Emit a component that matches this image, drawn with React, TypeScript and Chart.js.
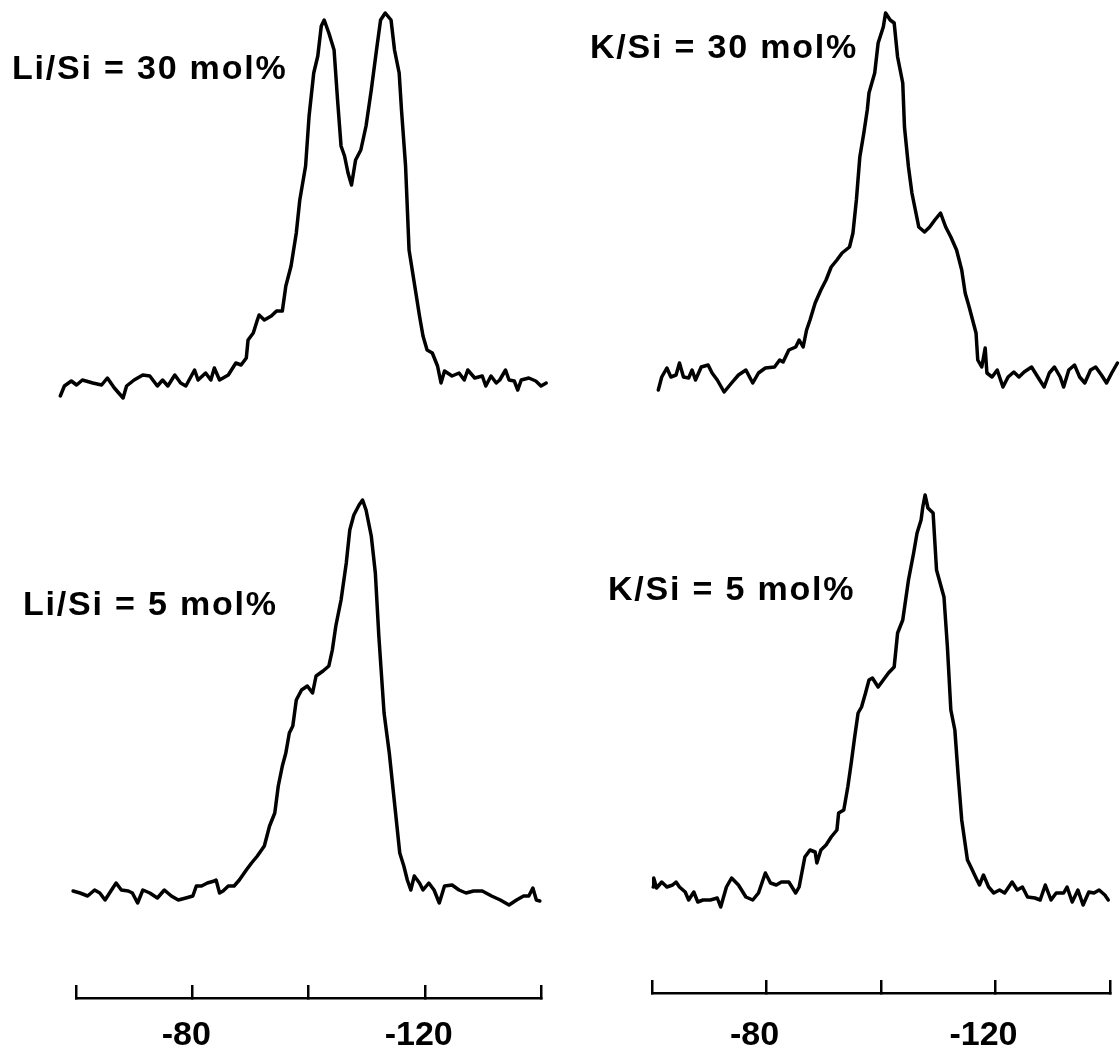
import React, { useEffect, useRef } from "react";
import { Chart, registerables } from "chart.js";

Chart.register(...registerables);

// 29Si chemical shift (ppm) and intensity (a.u., relative to each baseline)
const liSi30Ppm = [-57.3,-58.0,-59.2,-60.1,-61.1,-62.9,-64.4,-65.4,-66.6,-68.1,-68.7,-70.0,-71.5,-72.7,-74.0,-74.9,-75.8,-77.0,-78.0,-78.9,-80.4,-81.0,-82.3,-83.2,-83.8,-84.7,-86.2,-87.5,-88.4,-89.3,-89.6,-90.5,-91.2,-91.5,-92.4,-93.6,-94.5,-95.5,-96.1,-97.0,-97.9,-98.5,-99.5,-100.1,-100.9,-101.6,-102.2,-102.7,-103.5,-104.4,-105.0,-105.6,-106.2,-106.8,-107.4,-108.1,-109.0,-109.9,-110.8,-111.7,-112.4,-113.2,-114.2,-114.8,-115.6,-116.0,-116.7,-117.3,-118.2,-119.1,-119.7,-120.4,-121.3,-122.2,-122.8,-123.4,-124.7,-125.9,-126.8,-127.4,-128.6,-129.9,-130.5,-131.4,-132.3,-132.9,-133.9,-134.5,-135.4,-136.0,-136.6,-137.9,-139.1,-140.0,-140.9];
const liSi30Int = [-13,-3,2,-2,3,0,-2,5,-5,-15,-3,3,8,7,-3,3,-3,8,0,-3,13,3,10,3,15,3,8,20,18,25,43,50,63,68,63,67,72,72,97,117,150,183,217,267,310,327,357,363,350,333,283,237,227,210,198,223,233,257,293,333,363,370,363,333,310,273,217,133,100,67,47,33,30,17,0,12,7,10,3,13,5,7,-3,7,0,3,13,3,2,-7,3,5,2,-3,0];

const liSi5Ppm = [-59.5,-60.7,-62.0,-63.2,-64.1,-65.0,-66.0,-66.9,-67.8,-69.0,-69.7,-70.6,-71.5,-72.7,-74.0,-75.2,-76.4,-77.6,-78.9,-80.1,-80.7,-81.6,-82.6,-83.8,-84.1,-84.7,-85.3,-86.2,-87.2,-88.1,-89.3,-90.2,-91.2,-92.4,-93.3,-94.2,-94.8,-95.5,-96.1,-96.7,-97.3,-97.9,-98.8,-99.8,-100.7,-101.3,-102.5,-103.5,-104.1,-104.7,-105.6,-106.5,-107.1,-107.8,-108.7,-109.3,-109.9,-110.8,-111.5,-112.1,-113.0,-113.9,-114.8,-115.7,-116.4,-117.0,-117.6,-118.2,-119.1,-119.7,-120.7,-121.6,-122.5,-123.4,-124.7,-125.9,-127.1,-128.4,-129.9,-131.5,-133.0,-134.5,-135.8,-137.0,-137.9,-138.6,-139.2,-139.8];
const liSi5Int = [2,0,-3,3,0,-7,2,10,3,2,0,-10,3,0,-5,3,-3,-7,-5,-3,7,7,10,12,13,0,2,7,7,13,23,30,37,47,67,80,107,127,140,160,167,193,203,207,200,217,222,227,243,267,293,330,363,378,388,393,383,357,320,257,180,140,90,40,27,13,3,17,10,3,10,3,-10,7,8,3,0,2,2,-3,-7,-12,-7,-3,-3,5,-7,-8];

const kSi30Ppm = [-61.1,-61.7,-62.6,-63.3,-64.2,-64.8,-65.5,-66.4,-67.0,-67.6,-68.6,-69.8,-70.5,-71.4,-72.6,-73.9,-75.1,-76.4,-77.6,-78.6,-79.8,-81.4,-82.3,-82.9,-83.9,-85.1,-85.7,-86.4,-87.0,-87.6,-88.5,-89.5,-90.4,-91.3,-92.3,-93.2,-94.5,-95.1,-95.7,-96.3,-97.0,-97.6,-97.9,-98.9,-99.5,-100.4,-100.8,-101.6,-102.3,-102.9,-103.8,-104.1,-104.8,-105.4,-106.0,-106.6,-107.6,-108.5,-109.4,-110.4,-111.3,-112.2,-113.2,-114.1,-114.7,-115.4,-116.0,-116.6,-116.9,-117.6,-118.2,-118.5,-119.4,-120.3,-121.3,-122.2,-123.2,-124.1,-125.0,-126.3,-127.5,-128.5,-129.4,-130.3,-131.3,-131.9,-132.8,-133.8,-134.7,-135.6,-136.6,-137.5,-138.5,-139.4,-140.3,-141.3];
const kSi30Int = [-10,3,12,3,5,17,3,2,10,0,13,15,7,0,-12,-3,5,10,-3,7,12,13,20,18,30,33,40,33,50,60,77,90,100,113,120,127,133,147,180,223,247,270,287,307,337,353,367,360,357,323,297,253,213,187,170,153,148,153,160,167,153,143,130,110,87,73,60,47,20,13,32,7,3,10,-7,3,8,3,8,13,2,-7,7,13,3,-7,10,15,3,-3,10,13,5,-3,7,17];

const kSi5Ppm = [-60.2,-60.3,-60.8,-61.7,-62.6,-63.6,-64.2,-64.8,-65.8,-66.4,-67.3,-68.0,-68.9,-70.2,-71.4,-72.0,-73.0,-73.9,-75.1,-76.4,-77.6,-78.6,-79.8,-80.7,-81.7,-82.6,-83.9,-85.1,-85.7,-86.7,-87.6,-88.5,-88.8,-89.5,-90.4,-91.3,-92.3,-92.6,-93.5,-94.2,-94.8,-95.4,-96.0,-96.6,-97.3,-97.9,-98.5,-99.5,-100.4,-101.3,-102.3,-102.9,-103.8,-104.8,-105.7,-106.3,-107.0,-107.3,-107.7,-108.2,-109.1,-109.7,-111.0,-111.6,-112.2,-112.9,-113.5,-114.1,-115.1,-115.7,-116.6,-117.2,-117.9,-118.8,-119.7,-120.7,-121.6,-122.9,-123.8,-124.7,-125.6,-126.9,-127.8,-128.7,-129.7,-130.6,-131.9,-132.5,-133.4,-134.4,-135.3,-136.3,-137.2,-138.1,-139.1,-139.7];
const kSi5Int = [3,12,2,8,3,5,8,3,-2,-10,-2,-12,-10,-10,-8,-17,3,12,5,-7,-10,-3,17,7,5,8,8,-3,3,33,40,38,27,40,45,53,60,77,80,103,127,153,177,183,197,210,212,203,210,217,223,257,270,310,337,357,370,383,395,382,377,320,293,243,180,160,113,70,30,23,12,5,15,3,-3,0,-3,8,0,3,-7,-8,-10,5,-10,-3,-3,3,-12,0,-15,-2,-3,0,-5,-10];

const panelLabels = ["Li/Si = 30 mol%", "Li/Si = 5 mol%", "K/Si = 30 mol%", "K/Si = 5 mol%"];
const xMin = -140;
const xMax = -60;
const xStep = 20;
const xTickLabels = [-80, -120];

const CANVAS_W = 560;
const CANVAS_H = 1063;
const FONT = '"Liberation Sans", Arial, Helvetica, sans-serif';

const toPoints = (xs: number[], ys: number[]) => xs.map((x, i) => ({ x, y: ys[i] }));

// y-range so that intensity 0 lands on a given pixel row of the chart area (top = 0)
const rangeFor = (baselinePx: number, chartBottom: number) => ({
  min: -(chartBottom - baselinePx),
  max: baselinePx,
});

const labelPlugin = {
  id: "panelLabels",
  afterDraw(chart: any, _args: any, opts: any) {
    const ctx = chart.ctx;
    ctx.save();
    ctx.font = `bold 34px ${FONT}`;
    try { (ctx as any).letterSpacing = "1.8px"; } catch (e) {}
    ctx.fillStyle = "#000";
    ctx.textBaseline = "alphabetic";
    ctx.textAlign = "left";
    for (const it of opts.items || []) ctx.fillText(it.text, it.x, it.y);
    ctx.restore();
  },
};

function makeConfig(col: {
  top: { x: number; y: number }[];
  bottom: { x: number; y: number }[];
  padLeft: number;
  padRight: number;
  axisY: number;
  topBase: number;
  botBase: number;
  labelOffset: number;
  labelPad: number;
  labels: { text: string; x: number; y: number }[];
}): any {
  const ds = (data: any, axis: string) => ({
    data,
    yAxisID: axis,
    borderColor: "#000",
    borderWidth: 3.5,
    pointRadius: 0,
    tension: 0,
    fill: false,
    clip: false,
    borderJoinStyle: "round",
    borderCapStyle: "round",
  });
  const tr = rangeFor(col.topBase, col.axisY);
  const br = rangeFor(col.botBase, col.axisY);
  return {
    type: "line",
    data: { datasets: [ds(col.top, "yTop"), ds(col.bottom, "yBot")] },
    plugins: [labelPlugin],
    options: {
      animation: false,
      responsive: false,
      maintainAspectRatio: false,
      devicePixelRatio: 1,
      layout: { padding: { left: col.padLeft, right: col.padRight, top: 0, bottom: 0 } },
      plugins: {
        legend: { display: false },
        tooltip: { enabled: false },
        title: { display: false },
        panelLabels: { items: col.labels },
      },
      scales: {
        x: {
          type: "linear",
          min: xMin,
          max: xMax,
          reverse: true,
          afterFit: (s: any) => {
            s.height = CANVAS_H - col.axisY;
            s.paddingLeft = 0;
            s.paddingRight = 0;
          },
          border: { display: true, color: "#000", width: 2.5 },
          grid: {
            display: true,
            drawOnChartArea: false,
            drawTicks: true,
            tickLength: -13,
            color: "#000",
            lineWidth: 2.5,
          },
          ticks: {
            stepSize: xStep,
            autoSkip: false,
            maxRotation: 0,
            minRotation: 0,
            padding: col.labelPad,
            labelOffset: col.labelOffset,
            color: "#000",
            font: { family: FONT, size: 34, weight: "bold" },
            callback: (v: number) => (xTickLabels.includes(v) ? String(v) : ""),
          },
        },
        yTop: { axis: "y", type: "linear", display: false, min: tr.min, max: tr.max },
        yBot: { axis: "y", type: "linear", display: false, min: br.min, max: br.max },
      },
    },
  };
}

export default function App() {
  const leftRef = useRef<HTMLCanvasElement>(null);
  const rightRef = useRef<HTMLCanvasElement>(null);

  useEffect(() => {
    const left = new Chart(
      leftRef.current as HTMLCanvasElement,
      makeConfig({
        top: toPoints(liSi30Ppm, liSi30Int),
        bottom: toPoints(liSi5Ppm, liSi5Int),
        padLeft: 76,
        padRight: CANVAS_W - 541,
        axisY: 998,
        topBase: 383,
        botBase: 893,
        labelOffset: -6,
        labelPad: 30,
        labels: [
          { text: panelLabels[0], x: 12, y: 79 },
          { text: panelLabels[1], x: 23, y: 615 },
        ],
      })
    );
    const right = new Chart(
      rightRef.current as HTMLCanvasElement,
      makeConfig({
        top: toPoints(kSi30Ppm, kSi30Int),
        bottom: toPoints(kSi5Ppm, kSi5Int),
        padLeft: 652 - 560,
        padRight: CANVAS_W - (1110 - 560),
        axisY: 993,
        topBase: 380,
        botBase: 890,
        labelOffset: -12,
        labelPad: 35,
        labels: [
          { text: panelLabels[2], x: 30, y: 58 },
          { text: panelLabels[3], x: 48, y: 600 },
        ],
      })
    );
    return () => {
      left.destroy();
      right.destroy();
    };
  }, []);

  return (
    <div
      style={{
        position: "absolute",
        left: 0,
        top: 0,
        width: 1120,
        height: CANVAS_H,
        background: "#fff",
        overflow: "hidden",
      }}
    >
      <canvas
        ref={leftRef}
        width={CANVAS_W}
        height={CANVAS_H}
        style={{ position: "absolute", left: 0, top: 0, width: CANVAS_W, height: CANVAS_H }}
      />
      <canvas
        ref={rightRef}
        width={CANVAS_W}
        height={CANVAS_H}
        style={{ position: "absolute", left: 560, top: 0, width: CANVAS_W, height: CANVAS_H }}
      />
    </div>
  );
}
